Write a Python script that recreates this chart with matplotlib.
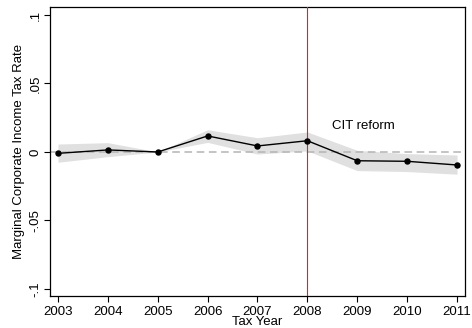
import numpy as np
import matplotlib
matplotlib.use('Agg')
import matplotlib.pyplot as plt
import matplotlib.ticker as mticker

plt.rcParams['font.family'] = ['Liberation Sans', 'DejaVu Sans']

years = [2003, 2004, 2005, 2006, 2007, 2008, 2009, 2010, 2011]
coef = [-0.0010, 0.0015, 0.0, 0.0117, 0.0044, 0.0082, -0.0064, -0.0068, -0.0095]
ci_hi = [0.0058, 0.0068, 0.0, 0.0162, 0.0104, 0.0146, 0.0012, -0.0012, -0.0022]
ci_lo = [-0.0075, -0.0034, 0.0, 0.0070, -0.0015, 0.0008, -0.0136, -0.0143, -0.0162]
yticks = [-0.1, -0.05, 0, 0.05, 0.1]
ytick_labels = ['-.1', '-.05', '0', '.05', '.1']
reform_year = 2008


def main():
    fig = plt.figure(figsize=(4.72, 3.28), dpi=100)
    ax = fig.add_axes([50/472, 1-296/328, 415/472, 289/328])

    ax.fill_between(years, ci_lo, ci_hi, color='#e0e0e0', linewidth=0, zorder=1)
    ax.axhline(0, color='#b4b4b4', linestyle=(0, (5, 3)), linewidth=1.1, zorder=2)
    ax.axvline(reform_year, color='#ee1c1c', linewidth=0.8, zorder=3)
    ax.plot(years, coef, color='black', linewidth=1.0, marker='o',
            markersize=3.6, zorder=4)
    ax.text(2008.5, 0.0193, 'CIT reform', fontsize=9.5, va='center', ha='left')

    ax.set_xlim(2002.84, 2011.16)
    ax.set_ylim(-0.1051, 0.1058)
    ax.set_xticks(years)
    ax.set_yticks(yticks)
    ax.set_yticklabels(ytick_labels, rotation=90, va='center')
    ax.tick_params(axis='both', labelsize=9.5, length=4, width=0.8,
                   direction='out')
    ax.tick_params(axis='x', pad=3)
    ax.tick_params(axis='y', pad=2)
    ax.set_xlabel('Tax Year', fontsize=9.5, labelpad=-1)
    ax.set_ylabel('Marginal Corporate Income Tax Rate', fontsize=9.5, labelpad=3)
    for s in ax.spines.values():
        s.set_linewidth(0.9)

    fig.savefig('out.png', dpi=100)


if __name__ == '__main__':
    main()
